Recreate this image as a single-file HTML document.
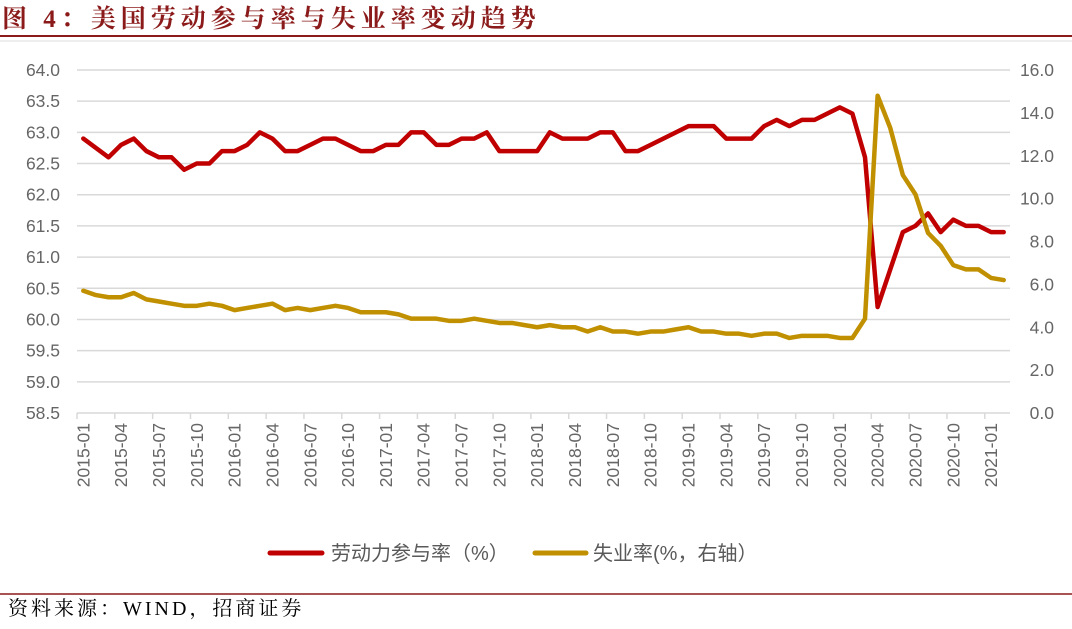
<!DOCTYPE html>
<html><head><meta charset="utf-8"><style>
body{margin:0;background:#fff;width:1072px;height:624px;overflow:hidden;font-family:"Liberation Sans","Noto Sans CJK SC",sans-serif}
</style></head><body>
<svg width="1072" height="624" xmlns="http://www.w3.org/2000/svg">
<text x="2" y="27" font-family="Liberation Serif,Noto Serif CJK SC,serif" font-weight="bold" font-size="25" fill="#8B1A1A" letter-spacing="5">图 4：美国劳动参与率与失业率变动趋势</text>
<line x1="0" y1="36" x2="1072" y2="36" stroke="#8B1A1A" stroke-width="2"/>
<line x1="0" y1="41" x2="1072" y2="41" stroke="#ddd" stroke-width="1"/>
<g id="grid"></g>
<g id="axes"></g>
<g id="series"></g>
<g>
<line x1="270" y1="553" x2="322" y2="553" stroke="#C00000" stroke-width="5" stroke-linecap="round"/>
<text x="331" y="560" font-size="20" fill="#595959">劳动力参与率（%）</text>
<line x1="535" y1="553" x2="586" y2="553" stroke="#C09000" stroke-width="5" stroke-linecap="round"/>
<text x="593" y="560" font-size="20" fill="#595959">失业率(%，右轴）</text>
</g>
<line x1="0" y1="594" x2="1072" y2="594" stroke="#8B1A1A" stroke-width="1.5"/>
<text x="8" y="615" font-family="Liberation Serif,Noto Serif CJK SC,serif" font-size="20" fill="#000" letter-spacing="3">资料来源：WIND，招商证券</text>
</svg>
<script>
const lfpr=[62.9,62.75,62.6,62.8,62.9,62.7,62.6,62.6,62.4,62.5,62.5,62.7,
62.7,62.8,63.0,62.9,62.7,62.7,62.8,62.9,62.9,62.8,62.7,62.7,
62.8,62.8,63.0,63.0,62.8,62.8,62.9,62.9,63.0,62.7,62.7,62.7,
62.7,63.0,62.9,62.9,62.9,63.0,63.0,62.7,62.7,62.8,62.9,63.0,
63.1,63.1,63.1,62.9,62.9,62.9,63.1,63.2,63.1,63.2,63.2,63.3,
63.4,63.3,62.6,60.2,60.8,61.4,61.5,61.7,61.4,61.6,61.5,61.5,
61.4,61.4];
const unemp=[5.7,5.5,5.4,5.4,5.6,5.3,5.2,5.1,5.0,5.0,5.1,5.0,
4.8,4.9,5.0,5.1,4.8,4.9,4.8,4.9,5.0,4.9,4.7,4.7,
4.7,4.6,4.4,4.4,4.4,4.3,4.3,4.4,4.3,4.2,4.2,4.1,
4.0,4.1,4.0,4.0,3.8,4.0,3.8,3.8,3.7,3.8,3.8,3.9,
4.0,3.8,3.8,3.7,3.7,3.6,3.7,3.7,3.5,3.6,3.6,3.6,
3.5,3.5,4.4,14.8,13.3,11.1,10.2,8.4,7.8,6.9,6.7,6.7,
6.3,6.2];
const leftTicks=[58.5,59.0,59.5,60.0,60.5,61.0,61.5,62.0,62.5,63.0,63.5,64.0];
const rightTicks=[0,2,4,6,8,10,12,14,16];
const startYear=2015, startMonth=1;
const NS='http://www.w3.org/2000/svg';
const X0=77,X1=1010,Y0=413,Y1=70;
const n=lfpr.length, step=(X1-X0)/n;
const xs=i=>X0+step*(i+0.5);
const yl=v=>Y0-(v-58.5)/(64-58.5)*(Y0-Y1);
const yr=v=>Y0-v/16*(Y0-Y1);
function mk(tag,attrs,parent){const e=document.createElementNS(NS,tag);for(const k in attrs)e.setAttribute(k,attrs[k]);parent.appendChild(e);return e;}
const grid=document.getElementById('grid'),axes=document.getElementById('axes'),ser=document.getElementById('series');
leftTicks.forEach(v=>{
 if(v!==58.5){const l=mk('line',{x1:X0,x2:X1,y1:yl(v),y2:yl(v),stroke:'#d9d9d9','stroke-width':1.5},grid);
 
 }
 const t=mk('text',{x:60,y:yl(v)+6,'font-size':17.5,fill:'#666','text-anchor':'end'},axes);t.textContent=v.toFixed(1);
 
 
});
rightTicks.forEach(v=>{
 const t=mk('text',{x:1054,y:yr(v)+6,'font-size':17.5,fill:'#666','text-anchor':'end'},axes);t.textContent=v.toFixed(1);
 
 
});
const ax=mk('line',{x1:X0,x2:X1,y1:Y0,y2:Y0,stroke:'#d9d9d9','stroke-width':1.5},axes);


for(let i=0;i<n;i++){
 if(i%3===0){
  const tx=X0+step*i;
  const tk=mk('line',{x1:tx,x2:tx,y1:Y0,y2:Y0+6,stroke:'#d9d9d9','stroke-width':1.5},axes);
  
  
  const m=startMonth-1+i, yv=startYear+Math.floor(m/12), mo=(m%12)+1;
  const x=xs(i)+6, y=Y0+10;
  const t=mk('text',{x:x,y:y,'font-size':17.5,fill:'#666','text-anchor':'end',transform:`rotate(-90 ${x} ${y})`},axes);
  t.textContent=yv+'-'+String(mo).padStart(2,'0');
  
  
 }
}
const p2=mk('polyline',{points:unemp.map((v,i)=>xs(i)+','+yr(v)).join(' '),fill:'none',stroke:'#C09000','stroke-width':4.5,'stroke-linejoin':'round','stroke-linecap':'round'},ser);


const p1=mk('polyline',{points:lfpr.map((v,i)=>xs(i)+','+yl(v)).join(' '),fill:'none',stroke:'#C00000','stroke-width':4.5,'stroke-linejoin':'round','stroke-linecap':'round'},ser);


ser.appendChild(p2);
</script>
</body></html>
